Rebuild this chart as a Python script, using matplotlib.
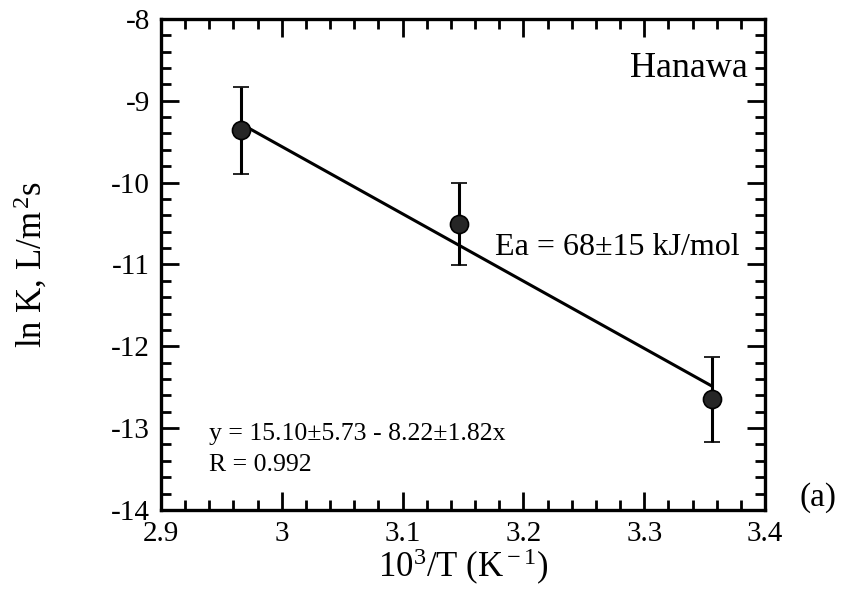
import numpy as np
import matplotlib.pyplot as plt
from matplotlib.ticker import MultipleLocator

plt.rcParams['font.family'] = 'Liberation Serif'
plt.rcParams['mathtext.fontset'] = 'custom'
plt.rcParams['mathtext.rm'] = 'Liberation Serif'
plt.rcParams['mathtext.it'] = 'Liberation Serif:italic'
plt.rcParams['axes.unicode_minus'] = False

# Arrhenius data, Hanawa site
inv_T = [2.966, 3.147, 3.356]
lnK = [-9.36, -10.51, -12.65]
lnK_err = [0.53, 0.50, 0.52]

# regression y = a - b x
a = 15.10
b = 8.22
fit_x = np.array([2.968, 3.355])
fit_y = a - b * fit_x

xticks = [2.9, 3.0, 3.1, 3.2, 3.3, 3.4]
xtick_labels = ['2.9', '3', '3.1', '3.2', '3.3', '3.4']

fig = plt.figure(figsize=(8.46, 6.10), dpi=100)
ax = fig.add_axes([0.1903, 0.164, 0.714, 0.805])

ax.plot(fit_x, fit_y, color='black', lw=2.2)
ax.errorbar(inv_T, lnK, yerr=lnK_err, fmt='o', color='#262626', ms=13,
            mec='black', mew=1.2, ecolor='black', elinewidth=2.2,
            capsize=5.5, capthick=2.2)

ax.set_xlim(2.9, 3.4)
ax.set_ylim(-14, -8)
ax.set_xticks(xticks)
ax.set_xticklabels(xtick_labels)
ax.xaxis.set_minor_locator(MultipleLocator(0.02))
ax.yaxis.set_major_locator(MultipleLocator(1))
ax.yaxis.set_minor_locator(MultipleLocator(0.2))
ax.tick_params(which='both', direction='in', top=True, right=True, width=2)
ax.tick_params(which='major', length=13, labelsize=21, pad=8)
ax.tick_params(which='minor', length=7)
for s in ax.spines.values():
    s.set_linewidth(2.4)

ax.set_xlabel(r'10$^{\rm 3}$/T (K$^{\rm -1}$)', fontsize=25, labelpad=0)
ax.set_ylabel(r'ln K, L/m$^{\,\rm 2}$s', fontsize=25)
ax.yaxis.set_label_coords(-0.185, 0.5)

ax.text(3.386, -8.71, 'Hanawa', fontsize=26, ha='right', va='baseline')
ax.text(3.379, -10.89, 'Ea = 68\u00b115 kJ/mol', fontsize=23, ha='right', va='baseline')
ax.text(2.9395, -13.14, 'y = 15.10\u00b15.73 - 8.22\u00b11.82x', fontsize=18.5, ha='left', va='baseline')
ax.text(2.9395, -13.52, 'R = 0.992', fontsize=18.5, ha='left', va='baseline')

fig.text(0.967, 0.185, '(a)', fontsize=24, ha='center', va='center')

plt.savefig('out.png', dpi=100)
